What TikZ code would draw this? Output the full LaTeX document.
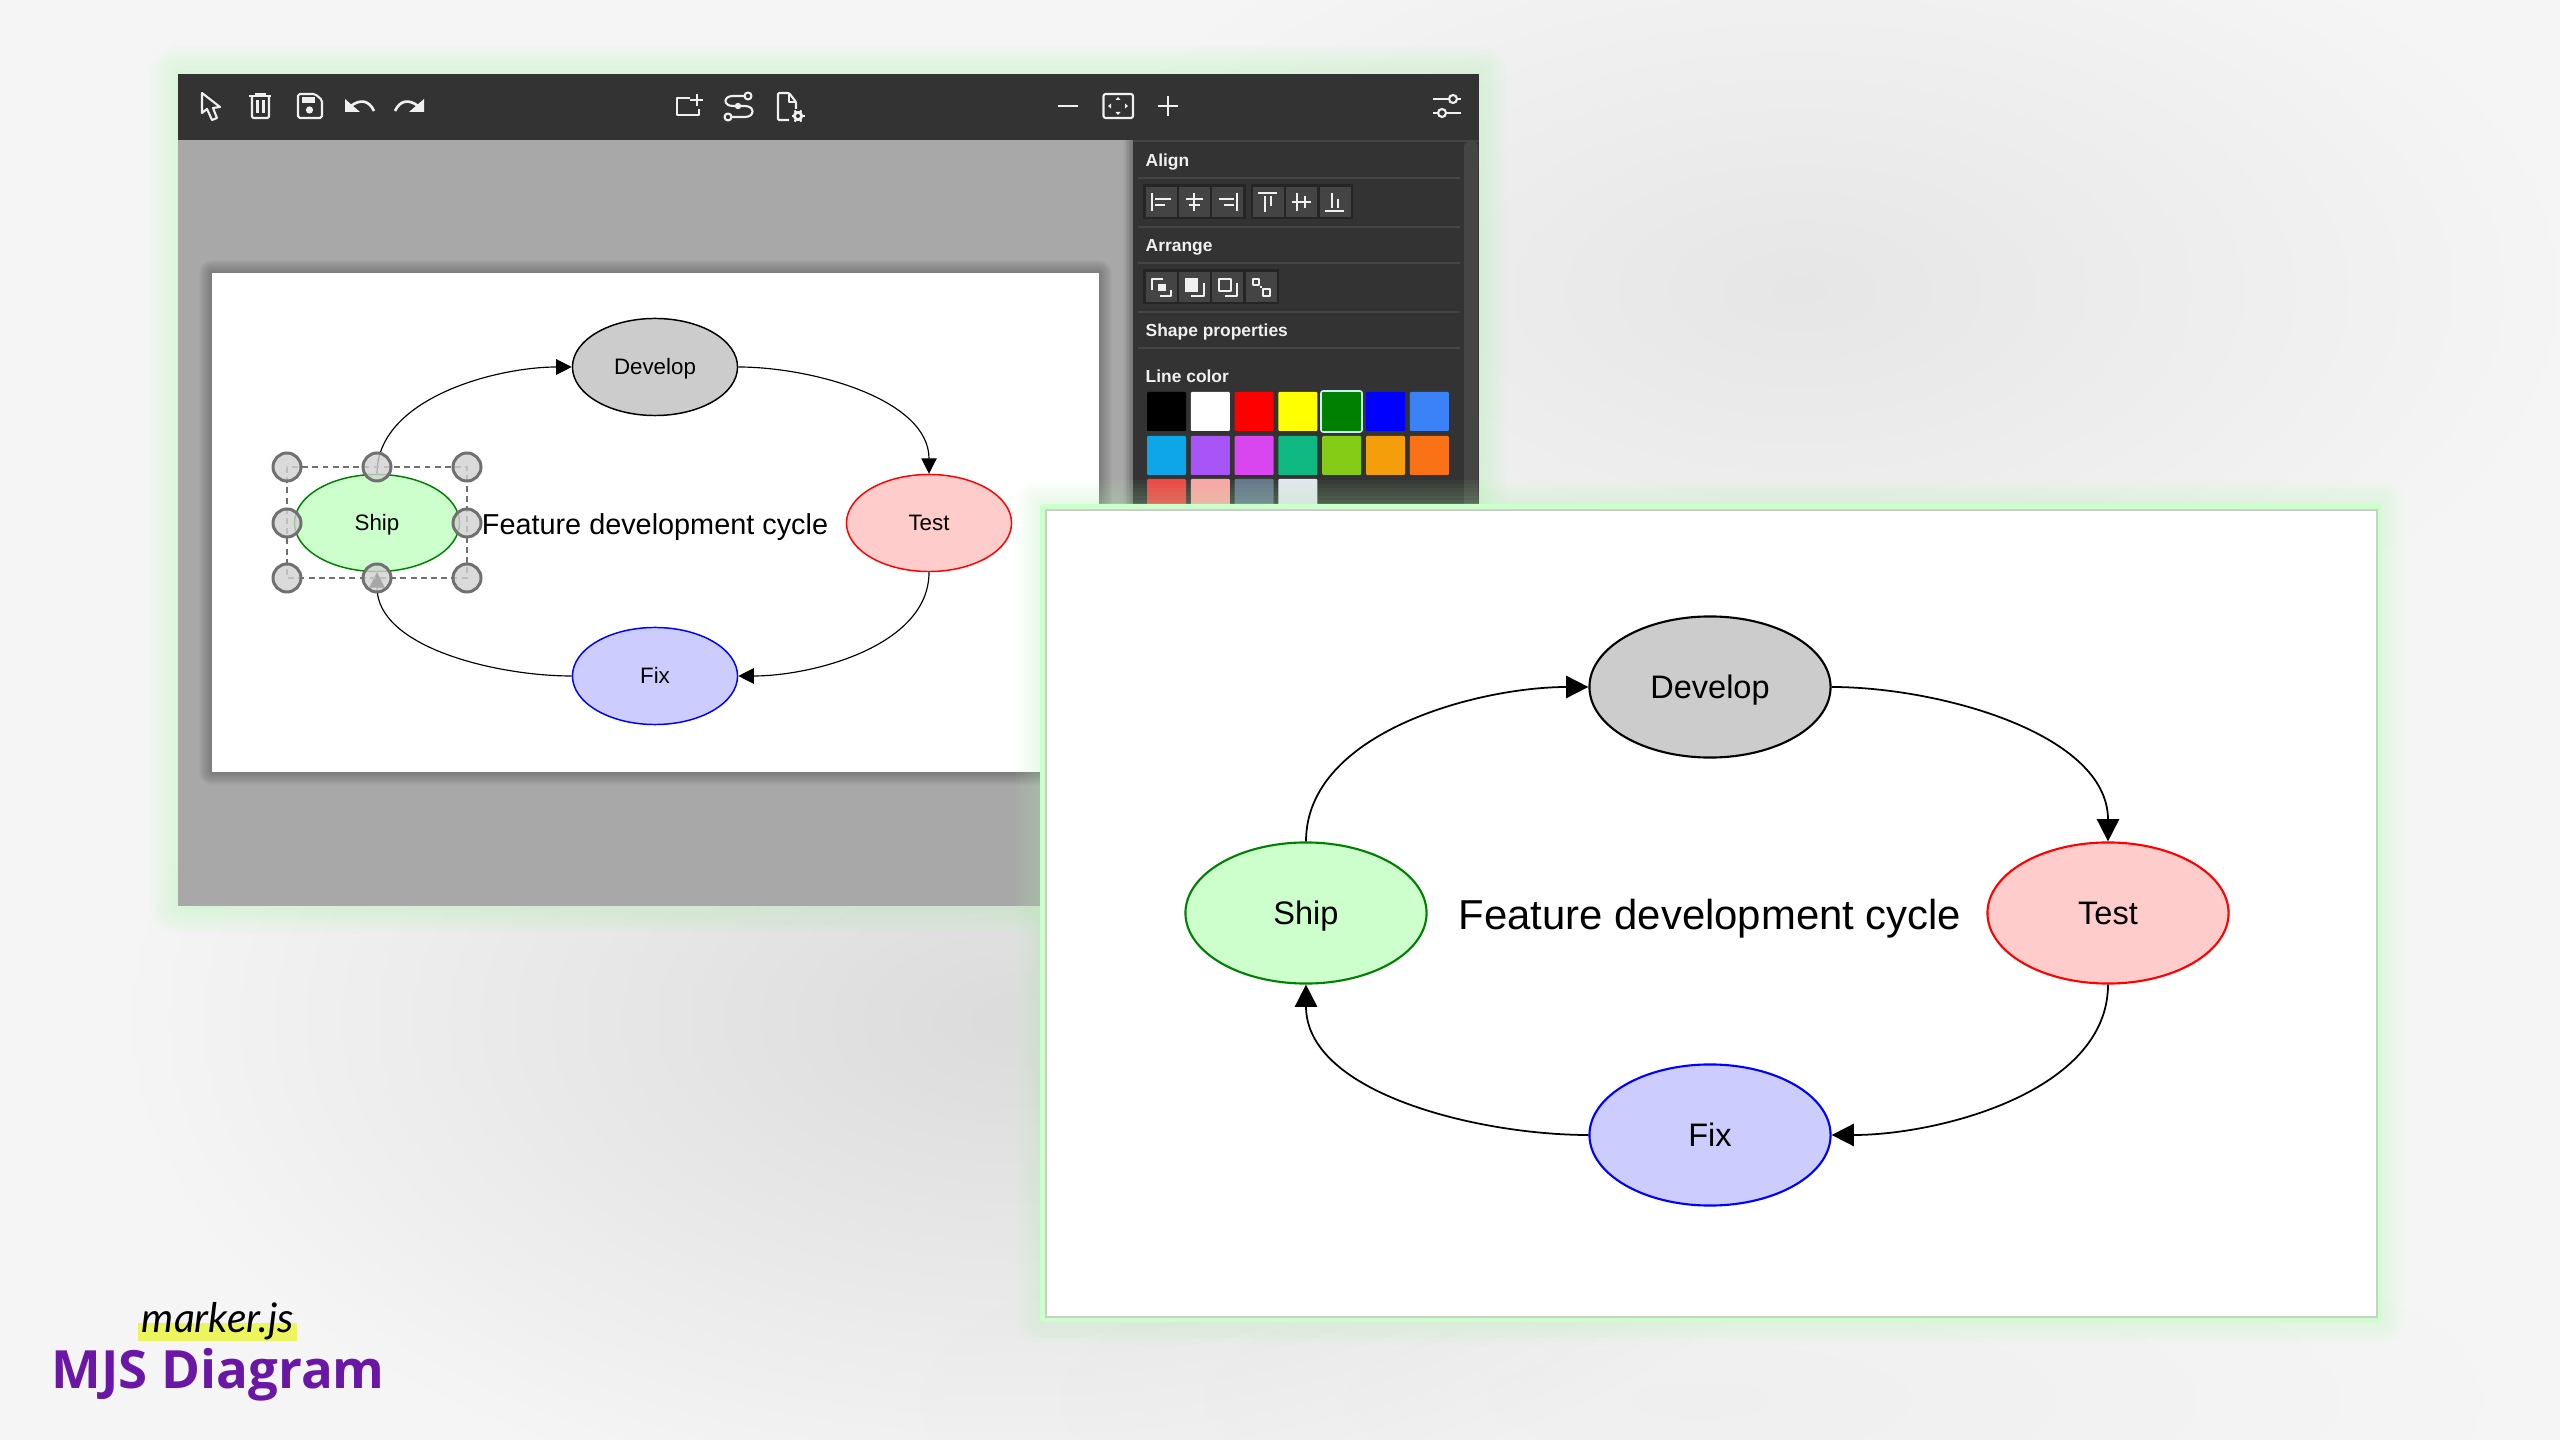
\documentclass[tikz,border=0pt]{standalone}
\usepackage{fontspec}
\setmainfont{Liberation Sans}
\newfontfamily\logofont{Open Sans}
\newfontfamily\handfont{Lato}
\usetikzlibrary{arrows.meta,graphs,shapes.geometric,fadings}
\definecolor{pagebg}{HTML}{F5F5F5}
\definecolor{toolbg}{HTML}{333333}
\definecolor{canvasbg}{HTML}{A8A8A8}
\definecolor{iconcol}{HTML}{F0F0F0}
\definecolor{glowcol}{HTML}{B4F5B4}
\definecolor{bandcol}{HTML}{CCFFCC}
\definecolor{shipfill}{HTML}{CCFFCC}
\definecolor{testfill}{HTML}{FFCCCC}
\definecolor{fixfill}{HTML}{CCCCFF}
\definecolor{shipline}{HTML}{008000}
\definecolor{handlecol}{HTML}{707070}
\definecolor{btncol}{HTML}{444444}
\definecolor{groupcol}{HTML}{252525}
\definecolor{rulecol}{HTML}{454545}
\definecolor{logocol}{HTML}{6A17A6}
\definecolor{markcol}{HTML}{ECF55E}
\tikzfading[name=blobfade, inner color=transparent!0, outer color=transparent!100]
\tikzset{
smallcycle/.style = { line width = .33pt, > = {Triangle[length=4.4pt,width=4.4pt]}, looseness = .87 },
bigcycle/.style = { line width = .5pt, > = {Triangle[length=6.3pt,width=6.3pt]}, looseness = .87 },
smallstate/.style = { ellipse, draw = #1, line width = .42pt, minimum width = 1.65cm, minimum height = .97cm, inner sep = 0pt, text height = 4.55pt, text depth = 0pt, font = \fontsize{6.35}{8}\selectfont },
bigstate/.style = { ellipse, draw = #1, line width = .6pt, minimum width = 2.41cm, minimum height = 1.41cm, inner sep = 0pt, text height = 6.65pt, text depth = 0pt, font = \fontsize{9.25}{11}\selectfont },
cycletitle/.style = { inner sep = 0pt, text depth = 0pt },
icon/.style = { draw = iconcol, line width = .6pt, line join = round },
iconfill/.style = { fill = iconcol },
panellabel/.style = { anchor = west, inner sep = 0pt, text = iconcol, text height = 3.55pt, text depth = 0pt, font = \fontsize{4.95}{6}\selectfont\bfseries },
panelrule/.style = { draw = rulecol, line width = .5pt },
btn/.style = { fill = btncol },
btngroup/.style = { fill = groupcol },
handle/.style = { draw = handlecol, line width = .85pt, fill = black!18, fill opacity = .8 }
}

\begin{document}
\begin{tikzpicture}[x=.01cm,y=-.01cm]
	\useasboundingbox (0,0) rectangle (2560,1440);
	\fill[pagebg] (0,0) rectangle (2560,1440);
	\fill[black,opacity=.1,path fading=blobfade] (1020,1020) ellipse [x radius=900, y radius=500];
	\fill[black,opacity=.06,path fading=blobfade] (1800,290) ellipse [x radius=780, y radius=420];
	\fill[black,opacity=.025,path fading=blobfade] (1700,1400) ellipse [x radius=850, y radius=230];

	% back window
	\foreach \w in {7,14,...,56}
		\draw[glowcol,opacity=.05,line width=\w*.01cm,line join=round] (178,74) rectangle (1479,906);
	\fill[canvasbg] (178,74) rectangle (1479,906);
	\foreach \w in {2,4,...,26}
		\draw[black,opacity=.02,line width=\w*.01cm,line join=round] (212,273) rectangle (1099,772);
	\fill[white] (212,273) rectangle (1099,772);
	\foreach \w in {3,6,...,18}
		\draw[black,opacity=.05,line width=\w*.01cm] (1133,140) -- (1133,906);
	\fill[toolbg] (1133,140) rectangle (1479,906);
	\fill[toolbg] (178,74) rectangle (1479,140);
	\fill[rulecol] (1133,140) rectangle (1479,142);

	% small diagram on the paper
	\begin{scope}[smallcycle]
		\node (developA) [smallstate=black, fill=black!20] at (655,367) {Develop};
		\node (shipA) [smallstate=shipline, fill=shipfill] at (377,523) {Ship};
		\node (testA) [smallstate=red, fill=testfill] at (929,523) {Test};
		\node (fixA) [smallstate=blue, fill=fixfill] at (655,676) {Fix};
		\node (titleA) [cycletitle, text height=5.9pt, font=\fontsize{8.2}{10}\selectfont] at (655,524) {Feature development cycle};
		\graph [use existing nodes]{
			shipA -> [out=90,in=180]
			developA -> [out=0,in=90]
			testA -> [out=-90,in=0]
			fixA -> [out=180,in=-90]
			shipA
		};
	\end{scope}

	% selection frame round Ship
	\draw[handlecol,line width=.33pt,dash pattern=on 1.7pt off 1.2pt] (287,467) rectangle (467,578);
	\foreach \hx/\hy in {287/467,377/467,467/467,287/523,467/523,287/578,377/578,467/578}
		\draw[handle] (\hx,\hy) circle [radius=14];

	% toolbar, left group
	\draw[icon] (202,93) -- (202,113) -- (207,109) -- (212,120) -- (217,118) -- (213,108) -- (220,107) -- cycle;
	\draw[icon] (249,96) -- (271,96) (255,94) -- (266,94);
	\draw[icon,rounded corners=.4pt] (252,96) -- (252,118) -- (269,118) -- (269,96);
	\draw[icon] (257.5,100) -- (257.5,113) (263.5,100) -- (263.5,113);
	\draw[icon,rounded corners=.5pt] (298,94) -- (315,94) -- (322,100) -- (322,118) -- (298,118) -- cycle;
	\fill[iconfill] (302,97) rectangle (315,103);
	\fill[iconfill] (309.5,110) circle [radius=3.6];
	\fill[iconfill] (345,99) -- (345,112) -- (360,112) -- cycle;
	\draw[icon,line width=.75pt] (351,106) .. controls (360,99) and (369,100) .. (374,111);
	\fill[iconfill] (424,99) -- (424,112) -- (409,112) -- cycle;
	\draw[icon,line width=.75pt] (418,106) .. controls (409,99) and (400,100) .. (395,111);

	% toolbar, middle group
	\draw[icon] (690,98) -- (677,98) -- (677,115) -- (699,115) -- (699,109);
	\draw[icon] (690,100) -- (703,100) (697,94) -- (697,106);
	\draw[icon] (744,96) -- (733,96) .. controls (723,96) and (723,106) .. (733,106) -- (745,106) .. controls (755,106) and (755,117) .. (745,117) -- (732,117);
	\draw[icon] (748,96) circle [radius=3.5] (728,117) circle [radius=3.5];
	\fill[iconfill] (738,106) circle [radius=3.2];
	\draw[icon,rounded corners=.3pt] (789,120) -- (778,120) -- (778,93) -- (789,93) -- (796,102) -- (796,109);
	\draw[icon] (789,93) -- (789,102) -- (796,102);
	\draw[icon,line width=.9pt] (798,116) circle [radius=3.5];
	\foreach \a in {0,60,120}
		\draw[icon] ([shift={(\a:6.5)}]798,116) -- ([shift={(\a+180:6.5)}]798,116);
	\fill[toolbg] (798,116) circle [radius=2];

	% toolbar, zoom group
	\draw[icon] (1058,106) -- (1078,106);
	\draw[icon,rounded corners=.6pt] (1103.5,94) rectangle (1133,118);
	\fill[iconfill] (1118,97) -- (1115.5,100) -- (1120.5,100) -- cycle;
	\fill[iconfill] (1118,115) -- (1115.5,112) -- (1120.5,112) -- cycle;
	\fill[iconfill] (1108,106) -- (1111,103.5) -- (1111,108.5) -- cycle;
	\fill[iconfill] (1128,106) -- (1125,103.5) -- (1125,108.5) -- cycle;
	\draw[icon] (1158,106) -- (1178,106) (1168,96) -- (1168,116);

	% toolbar, settings
	\draw[icon] (1433,99) -- (1449,99) (1457,99) -- (1461,99) (1433,113) -- (1438,113) (1446,113) -- (1461,113);
	\draw[icon] (1453,99) circle [radius=4] (1442,113) circle [radius=4];

	% panel
	\node (alignlabel) [panellabel] at (1145,160) {Align};
	\node (arrangelabel) [panellabel] at (1145,245) {Arrange};
	\node (shapelabel) [panellabel] at (1145,330) {Shape properties};
	\node (linelabel) [panellabel] at (1145,376) {Line color};
	\foreach \ry in {178,227,263,312,348}
		\draw[panelrule] (1138,\ry) -- (1460,\ry);
	\fill[rulecol,rounded corners=1.2pt] (1464,142) rectangle (1478,520);

	\fill[btngroup] (1143,184) rectangle (1246,219);
	\fill[btngroup] (1251,184) rectangle (1353,219);
	\fill[btngroup] (1143,269) rectangle (1279,304);
	\foreach \bx in {1146,1179,1212,1253,1286,1320}
		\fill[btn] (\bx,187) rectangle ++(31,30);
	\foreach \bx in {1146,1179,1212,1246}
		\fill[btn] (\bx,272) rectangle ++(31,30);

	% align icons
	\draw[icon] (1152,193) -- (1152,211) (1155,199) -- (1171,199) (1155,205) -- (1165,205);
	\draw[icon] (1194,193) -- (1194,211) (1186,199) -- (1203,199) (1189,205) -- (1200,205);
	\draw[icon] (1237,193) -- (1237,211) (1219,199) -- (1234,199) (1224,205) -- (1234,205);
	\draw[icon] (1258,193) -- (1277,193) (1265,196) -- (1265,212) (1271,196) -- (1271,206);
	\draw[icon] (1292,202) -- (1311,202) (1297,193) -- (1297,211) (1305,196) -- (1305,208);
	\draw[icon] (1325,211) -- (1344,211) (1332,193) -- (1332,208) (1338,199) -- (1338,208);

	% arrange icons
	\draw[icon,line width=.5pt] (1152,290) -- (1152,279) -- (1163,279) (1171,290) -- (1171,296) -- (1160,296);
	\fill[iconfill] (1158,284) rectangle (1166,291);
	\fill[iconfill] (1185,278) rectangle (1198,292);
	\draw[icon,line width=.5pt] (1204,283) -- (1204,296) -- (1191,296);
	\draw[icon] (1219,279) rectangle (1231,291);
	\draw[icon] (1237,283) -- (1237,296) -- (1225,296);
	\draw[icon,line width=.5pt] (1253,279) rectangle (1259,285) (1263,289) rectangle (1270,296);
	\fill[iconfill] (1260,286) rectangle (1262,288);

	% line colours, third row runs under the front card
	\foreach \c [count=\i from 0] in {000000,FFFFFF,FF0000,FFFF00,008000,0000FF,3B82F6}{
		\definecolor{swatch}{HTML}{\c}
		\fill[swatch,rounded corners=.3pt] (1147+43.8*\i,392) rectangle ++(39,39);
	}
	\foreach \c [count=\i from 0] in {0EA5E9,A855F7,D946EF,10B981,84CC16,F59E0B,F97316}{
		\definecolor{swatch}{HTML}{\c}
		\fill[swatch,rounded corners=.3pt] (1147+43.8*\i,436) rectangle ++(39,39);
	}
	\foreach \c [count=\i from 0] in {EF4444,FCA5A5,64748B,E2E8F0}{
		\definecolor{swatch}{HTML}{\c}
		\fill[swatch,rounded corners=.3pt] (1147+43.8*\i,479) rectangle ++(39,39);
	}
	\draw[cyan!20,line width=.45pt,rounded corners=.6pt] (1321,391) rectangle (1362,432);

	% front card
	\foreach \w in {8,16,...,48}
		\draw[glowcol,opacity=.045,line width=\w*.01cm,line join=round] (1040,504) rectangle (2381,1322);
	\fill[bandcol,rounded corners=1pt] (1040,504) rectangle (2381,1322);
	\fill[black!20] (1045,509) rectangle (2378,1318);
	\fill[white] (1047,511) rectangle (2376,1316);

	\begin{scope}[bigcycle]
		\node (developB) [bigstate=black, fill=black!20] at (1710,687) {Develop};
		\node (shipB) [bigstate=shipline, fill=shipfill] at (1306,913) {Ship};
		\node (testB) [bigstate=red, fill=testfill] at (2108,913) {Test};
		\node (fixB) [bigstate=blue, fill=fixfill] at (1710,1135) {Fix};
		\node (titleB) [cycletitle, text height=8.55pt, font=\fontsize{11.9}{14}\selectfont] at (1710,914) {Feature development cycle};
		\graph [use existing nodes]{
			shipB -> [out=90,in=180]
			developB -> [out=0,in=90]
			testB -> [out=-90,in=0]
			fixB -> [out=180,in=-90]
			shipB
		};
	\end{scope}

	% logo
	\fill[markcol] (138,1323) rectangle (297,1341);
	\node (markerlogo) [anchor=base, inner sep=0pt, font=\handfont\itshape\fontsize{11.6}{14}\selectfont] at (218,1332) {marker.js};
	\node (diagramlogo) [anchor=base, inner sep=0pt, text=logocol, font=\logofont\bfseries\fontsize{15}{18}\selectfont] at (218,1388) {MJS Diagram};
\end{tikzpicture}
\end{document}
